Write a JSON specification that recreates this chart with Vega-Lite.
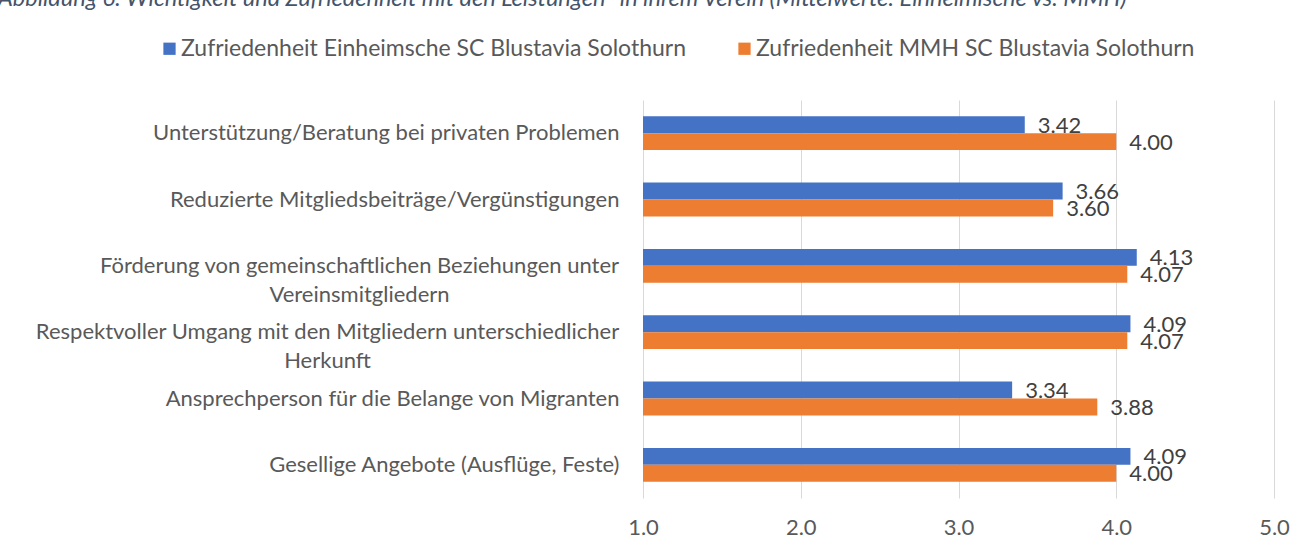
{
  "$schema": "https://vega.github.io/schema/vega-lite/v6.json",
  "width": 631,
  "height": 398,
  "autosize": {"type": "none"},
  "padding": {"left": 643, "top": 100, "right": 33, "bottom": 52},
  "background": "white",
  "title": {
    "text": "Abbildung 6: Wichtigkeit und Zufriedenheit mit den Leistungen* in ihrem Verein (Mittelwerte: Einheimische vs. MMH)",
    "anchor": "start",
    "frame": "group",
    "font": "Lato",
    "fontSize": 23.5,
    "fontStyle": "italic",
    "fontWeight": "normal",
    "color": "#44546A",
    "baseline": "bottom",
    "offset": 0,
    "dx": -645,
    "dy": -3
  },
  "datasets": {
    "bars": [
      {"category": "Unterstützung/Beratung bei privaten Problemen", "series": "Zufriedenheit Einheimsche SC Blustavia Solothurn", "value": 3.42},
      {"category": "Unterstützung/Beratung bei privaten Problemen", "series": "Zufriedenheit MMH SC Blustavia Solothurn", "value": 4.00},
      {"category": "Reduzierte Mitgliedsbeiträge/Vergünstigungen", "series": "Zufriedenheit Einheimsche SC Blustavia Solothurn", "value": 3.66},
      {"category": "Reduzierte Mitgliedsbeiträge/Vergünstigungen", "series": "Zufriedenheit MMH SC Blustavia Solothurn", "value": 3.60},
      {"category": "Förderung von gemeinschaftlichen Beziehungen unter Vereinsmitgliedern", "series": "Zufriedenheit Einheimsche SC Blustavia Solothurn", "value": 4.13},
      {"category": "Förderung von gemeinschaftlichen Beziehungen unter Vereinsmitgliedern", "series": "Zufriedenheit MMH SC Blustavia Solothurn", "value": 4.07},
      {"category": "Respektvoller Umgang mit den Mitgliedern unterschiedlicher Herkunft", "series": "Zufriedenheit Einheimsche SC Blustavia Solothurn", "value": 4.09},
      {"category": "Respektvoller Umgang mit den Mitgliedern unterschiedlicher Herkunft", "series": "Zufriedenheit MMH SC Blustavia Solothurn", "value": 4.07},
      {"category": "Ansprechperson für die Belange von Migranten", "series": "Zufriedenheit Einheimsche SC Blustavia Solothurn", "value": 3.34},
      {"category": "Ansprechperson für die Belange von Migranten", "series": "Zufriedenheit MMH SC Blustavia Solothurn", "value": 3.88},
      {"category": "Gesellige Angebote (Ausflüge, Feste)", "series": "Zufriedenheit Einheimsche SC Blustavia Solothurn", "value": 4.09},
      {"category": "Gesellige Angebote (Ausflüge, Feste)", "series": "Zufriedenheit MMH SC Blustavia Solothurn", "value": 4.00}
    ]
  },
  "data": {"name": "bars"},
  "encoding": {
    "y": {
      "field": "category",
      "type": "nominal",
      "sort": null,
      "scale": {"paddingInner": 0.49, "paddingOuter": 0.245},
      "axis": {
        "title": null,
        "domain": false,
        "ticks": false,
        "labelAlign": {"condition": {"test": "indexof(['Förderung von gemeinschaftlichen Beziehungen unter Vereinsmitgliedern', 'Respektvoller Umgang mit den Mitgliedern unterschiedlicher Herkunft'], datum.value) >= 0", "value": "center"}, "value": "right"},
        "labelPadding": {"condition": [
          {"test": "datum.value == 'Förderung von gemeinschaftlichen Beziehungen unter Vereinsmitgliedern'", "value": 284},
          {"test": "datum.value == 'Respektvoller Umgang mit den Mitgliedern unterschiedlicher Herkunft'", "value": 316}
        ], "value": 24},
        "labelFont": "Lato",
        "labelFontSize": 22,
        "labelColor": "#595959",
        "labelLimit": 700,
        "labelLineHeight": 29,
        "labelExpr": "datum.value == 'Förderung von gemeinschaftlichen Beziehungen unter Vereinsmitgliedern' ? ['Förderung von gemeinschaftlichen Beziehungen unter', 'Vereinsmitgliedern'] : datum.value == 'Respektvoller Umgang mit den Mitgliedern unterschiedlicher Herkunft' ? ['Respektvoller Umgang mit den Mitgliedern unterschiedlicher', 'Herkunft'] : datum.value"
      }
    },
    "yOffset": {
      "field": "series",
      "type": "nominal",
      "scale": {"domain": ["Zufriedenheit Einheimsche SC Blustavia Solothurn", "Zufriedenheit MMH SC Blustavia Solothurn"], "paddingInner": 0, "paddingOuter": 0}
    },
    "x": {
      "field": "value",
      "type": "quantitative",
      "scale": {"domain": [1, 5], "nice": false, "zero": false},
      "axis": {
        "title": null,
        "values": [1, 2, 3, 4, 5],
        "format": ".1f",
        "domain": false,
        "ticks": false,
        "grid": true,
        "gridColor": "#D9D9D9",
        "gridWidth": 1,
        "labelFlush": false,
        "labelPadding": 19,
        "labelFont": "Lato",
        "labelFontSize": 22,
        "labelColor": "#595959"
      }
    }
  },
  "layer": [
    {
      "mark": {"type": "bar"},
      "encoding": {
        "x2": {"datum": 1},
        "color": {
          "field": "series",
          "type": "nominal",
          "scale": {"domain": ["Zufriedenheit Einheimsche SC Blustavia Solothurn", "Zufriedenheit MMH SC Blustavia Solothurn"], "range": ["#4472C4", "#ED7D31"]},
          "legend": {
            "title": null,
            "orient": "none",
            "direction": "horizontal",
            "legendX": -485,
            "legendY": -63,
            "symbolType": "square",
            "symbolSize": 150,
            "symbolStrokeWidth": 0,
            "labelFont": "Lato",
            "labelFontSize": 23,
            "labelColor": "#595959",
            "labelLimit": 700,
            "labelOffset": 0,
            "columnPadding": 46
          }
        }
      }
    },
    {
      "mark": {"type": "text", "align": "left", "baseline": "middle", "dx": 13, "dy": 1, "font": "Lato", "fontSize": 22, "color": "#404040"},
      "encoding": {
        "text": {"field": "value", "type": "quantitative", "format": ".2f"}
      }
    }
  ],
  "config": {
    "view": {"stroke": null}
  }
}
